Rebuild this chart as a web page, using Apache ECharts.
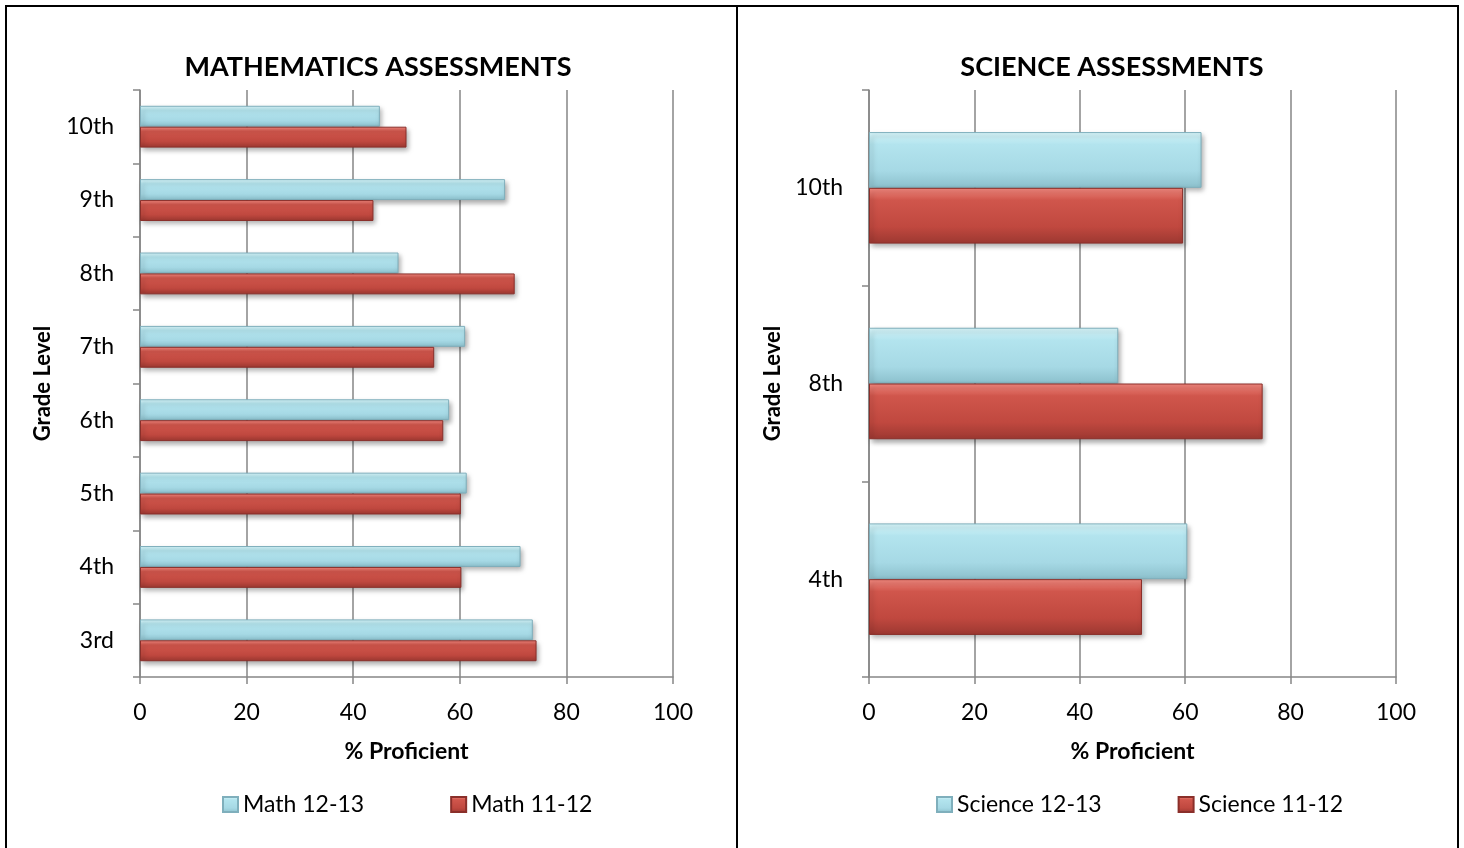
<!DOCTYPE html>
<html>
<head>
<meta charset="utf-8">
<script src="https://cdn.jsdelivr.net/npm/echarts@6/dist/echarts.min.js"></script>
<style>
  body { margin: 0; background: #fff; }
  .line { position: absolute; background: #000; }
  .chart { position: absolute; top: 8px; height: 840px; }
</style>
</head>
<body>
<div class="line" style="left:5px;top:5px;width:1454px;height:2px"></div>
<div class="line" style="left:5px;top:5px;width:2px;height:843px"></div>
<div class="line" style="left:736px;top:5px;width:2px;height:843px"></div>
<div class="line" style="left:1457px;top:5px;width:2px;height:843px"></div>
<div id="math" class="chart" style="left:7px;width:729px"></div>
<div id="science" class="chart" style="left:738px;width:719px"></div>
<script>
// data
const mathGrades = ["3rd", "4th", "5th", "6th", "7th", "8th", "9th", "10th"];
const math1213 = [73.7, 71.4, 61.3, 58.0, 61.0, 48.5, 68.5, 45.0];
const math1112 = [74.4, 60.3, 60.2, 56.9, 55.2, 70.3, 43.8, 50.0];

const scienceGrades = ["4th", "8th", "10th"];
const science1213 = [60.4, 47.3, 63.1];
const science1112 = [51.8, 74.7, 59.6];

const xTicks = [0, 20, 40, 60, 80, 100];

const font = "Lato, 'Open Sans', sans-serif";

const cyanFill = new echarts.graphic.LinearGradient(0, 0, 0, 1, [
  { offset: 0, color: "#d9f8fc" },
  { offset: 0.22, color: "#b3e4ee" },
  { offset: 0.7, color: "#a6d9e5" },
  { offset: 1, color: "#8cc0cc" },
]);
const redFill = new echarts.graphic.LinearGradient(0, 0, 0, 1, [
  { offset: 0, color: "#f58a80" },
  { offset: 0.22, color: "#d0564c" },
  { offset: 0.7, color: "#c0483f" },
  { offset: 1, color: "#9c3831" },
]);

function makeSeries(name, data, fill, border) {
  return {
    name: name,
    type: "bar",
    data: data,
    barGap: "0%",
    barCategoryGap: "43%",
    itemStyle: {
      color: fill,
      borderColor: border,
      borderWidth: 1,
      shadowColor: "rgba(0,0,0,0.35)",
      shadowBlur: 5,
      shadowOffsetX: 2,
      shadowOffsetY: 3,
    },
    animation: false,
  };
}

function drawChart(el, opt) {
  const chart = echarts.init(document.getElementById(el));
  chart.setOption({
    textStyle: { fontFamily: font },
    title: {
      text: opt.title,
      left: opt.titleX,
      top: 41,
      textAlign: "center",
      textStyle: { fontFamily: font, fontSize: 27, fontWeight: "bold", color: "#000" },
    },
    legend: {
      left: opt.legendX,
      top: 780,
      itemWidth: 15,
      itemHeight: 15,
      itemGap: opt.legendGap,
      icon: "rect",
      textStyle: { fontFamily: font, fontSize: 23, color: "#000" },
    },
    grid: { left: opt.gridLeft, right: opt.gridRight, top: 82, bottom: 171 },
    xAxis: {
      type: "value",
      min: 0,
      max: 100,
      interval: 20,
      name: "% Proficient",
      nameLocation: "middle",
      nameGap: 63,
      nameTextStyle: { fontFamily: font, fontSize: 23, fontWeight: "bold", color: "#000" },
      axisLine: { show: true, lineStyle: { color: "#868686", width: 1.5 } },
      axisTick: { show: true, length: 7, lineStyle: { color: "#868686", width: 1.5 } },
      axisLabel: {
        margin: 24,
        fontSize: 23,
        color: "#000",
        formatter: (v) => (xTicks.indexOf(v) >= 0 ? String(v) : ""),
      },
      splitLine: { show: true, lineStyle: { color: "#868686", width: 1.5 } },
    },
    yAxis: {
      type: "category",
      data: opt.categories,
      name: "Grade Level",
      nameLocation: "middle",
      nameGap: opt.nameGap,
      nameTextStyle: { fontFamily: font, fontSize: 22, fontWeight: "bold", color: "#000" },
      axisLine: { show: true, lineStyle: { color: "#868686", width: 1.5 } },
      axisTick: { show: true, length: 7, lineStyle: { color: "#868686", width: 1.5 } },
      axisLabel: { margin: 26, fontSize: 23, color: "#000" },
    },
    series: opt.series,
  });
}

drawChart("math", {
  title: "MATHEMATICS ASSESSMENTS",
  titleX: 366,
  legendX: 210,
  legendGap: 86,
  gridLeft: 133,
  gridRight: 63,
  nameGap: 86,
  categories: mathGrades,
  series: [
    makeSeries("Math 12-13", math1213, cyanFill, "#7fafbc"),
    makeSeries("Math 11-12", math1112, redFill, "#8a2f2a"),
  ],
});

drawChart("science", {
  title: "SCIENCE ASSESSMENTS",
  titleX: 369,
  legendX: 193,
  legendGap: 76,
  gridLeft: 131,
  gridRight: 61,
  nameGap: 83,
  categories: scienceGrades,
  series: [
    makeSeries("Science 12-13", science1213, cyanFill, "#7fafbc"),
    makeSeries("Science 11-12", science1112, redFill, "#8a2f2a"),
  ],
});
</script>
</body>
</html>
